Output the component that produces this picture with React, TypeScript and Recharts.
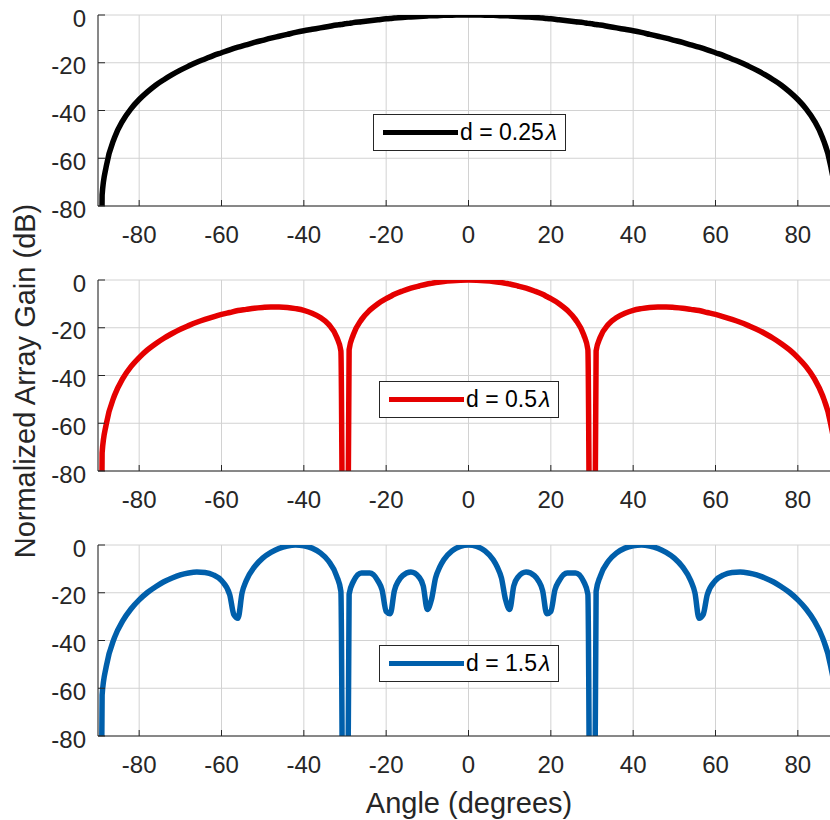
import { LineChart, Line, XAxis, YAxis, CartesianGrid, Legend } from 'recharts';

// angles (degrees) shared by the d = 0.25 and d = 0.5 curves
const angles = [
  -90, -89, -88, -86, -84, -82, -80, -78, -76, -74, -72, -70, -68, -66, -64, -62, -60, -58, -56, -54,
  -52, -50, -48, -46, -44, -42, -40, -38, -36, -34, -32, -31, -30, -29, -28, -26, -24, -22, -20, -19,
  -18, -16, -14, -12, -10, -9, -8, -6, -4, -2, 0, 2, 4, 6, 8, 9, 10, 12, 14, 16,
  18, 19, 20, 22, 24, 26, 28, 29, 30, 31, 32, 34, 36, 38, 40, 42, 44, 46, 48, 50,
  52, 54, 56, 58, 60, 62, 64, 66, 68, 70, 72, 74, 76, 78, 80, 82, 84, 86, 88, 89, 90,
];

// d = 0.25 lambda
const gainQuarter = [
  -300, -75.4, -63.4, -51.4, -44.3, -39.3, -35.4, -32.2, -29.4, -27.1, -25.0, -23.1, -21.4, -19.8, -18.4, -17.0, -15.8, -14.6, -13.5, -12.5,
  -11.5, -10.6, -9.7, -8.9, -8.1, -7.3, -6.6, -6.0, -5.4, -4.8, -4.2, -4.0, -3.7, -3.5, -3.2, -2.8, -2.4, -2.0, -1.6, -1.5,
  -1.3, -1.0, -0.8, -0.6, -0.4, -0.3, -0.3, -0.1, -0.1, 0, 0, 0, -0.1, -0.1, -0.3, -0.3, -0.4, -0.6, -0.8, -1.0,
  -1.3, -1.5, -1.6, -2.0, -2.4, -2.8, -3.2, -3.5, -3.7, -4.0, -4.2, -4.8, -5.4, -6.0, -6.6, -7.3, -8.1, -8.9, -9.7, -10.6,
  -11.5, -12.5, -13.5, -14.6, -15.8, -17.0, -18.4, -19.8, -21.4, -23.1, -25.0, -27.1, -29.4, -32.2, -35.4, -39.3, -44.3, -51.4, -63.4, -75.4, -300,
];

// d = 0.5 lambda
const gainHalf = [
  -300, -72.4, -60.4, -48.4, -41.3, -36.3, -32.5, -29.3, -26.7, -24.4, -22.4, -20.6, -19.1, -17.7, -16.5, -15.4, -14.4, -13.6, -12.8, -12.3,
  -11.8, -11.5, -11.3, -11.3, -11.5, -12.0, -12.7, -13.9, -15.7, -18.5, -24.0, -29.7, -300, -29.2, -23.0, -16.6, -12.7, -9.9, -7.8, -6.9,
  -6.0, -4.6, -3.4, -2.5, -1.7, -1.4, -1.1, -0.6, -0.3, -0.1, 0, -0.1, -0.3, -0.6, -1.1, -1.4, -1.7, -2.5, -3.4, -4.6,
  -6.0, -6.9, -7.8, -9.9, -12.7, -16.6, -23.0, -29.2, -300, -29.7, -24.0, -18.5, -15.7, -13.9, -12.7, -12.0, -11.5, -11.3, -11.3, -11.5,
  -11.8, -12.3, -12.8, -13.6, -14.4, -15.4, -16.5, -17.7, -19.1, -20.6, -22.4, -24.4, -26.7, -29.3, -32.5, -36.3, -41.3, -48.4, -60.4, -72.4, -300,
];

// angles for the d = 1.5 curve (denser around the dips)
const anglesWide = [
  -90, -89, -88, -86, -84, -82, -80, -78, -76, -74, -72, -70, -68, -66, -64, -62, -60, -58, -57, -56,
  -55, -54, -52, -50, -48, -46, -44, -42, -40, -38, -36, -34, -32, -31, -30, -29, -28, -26, -24, -22,
  -21, -20, -19, -18, -17, -16, -14, -12, -11, -10, -9, -8, -7, -6, -4, -2, 0, 2, 4, 6,
  7, 8, 9, 10, 11, 12, 14, 16, 17, 18, 19, 20, 21, 22, 24, 26, 28, 29, 30, 31,
  32, 34, 36, 38, 40, 42, 44, 46, 48, 50, 52, 54, 55, 56, 57, 58, 60, 62, 64, 66,
  68, 70, 72, 74, 76, 78, 80, 82, 84, 86, 88, 89, 90,
];

// d = 1.5 lambda
const gainOneHalf = [
  -300, -62.9, -50.9, -38.8, -31.8, -26.8, -23.0, -19.9, -17.5, -15.4, -13.8, -12.5, -11.7, -11.3, -11.5, -12.5, -14.9, -20.8, -29.2, -30.7,
  -20.0, -15.0, -9.2, -5.5, -3.1, -1.4, -0.4, 0, -0.3, -1.3, -3.3, -6.7, -13.1, -19.4, -300, -20.6, -15.4, -11.7, -11.7, -15.0,
  -18.8, -27.8, -28.8, -19.1, -15.0, -12.8, -11.3, -13.5, -17.1, -27.0, -22.9, -13.8, -9.3, -6.2, -2.5, -0.6, 0, -0.6, -2.5, -6.2,
  -9.3, -13.8, -22.9, -27.0, -17.1, -13.5, -11.3, -12.8, -15.0, -19.1, -28.8, -27.8, -18.8, -15.0, -11.7, -11.7, -15.4, -20.6, -300, -19.4,
  -13.1, -6.7, -3.3, -1.3, -0.3, 0, -0.4, -1.4, -3.1, -5.5, -9.2, -15.0, -20.0, -30.7, -29.2, -20.8, -14.9, -12.5, -11.5, -11.3,
  -11.7, -12.5, -13.8, -15.4, -17.5, -19.9, -23.0, -26.8, -31.8, -38.8, -50.9, -62.9, -300,
];

const xTicks = [-80, -60, -40, -20, 0, 20, 40, 60, 80];
const yTicks = [-80, -60, -40, -20, 0];

const FONT = '"Liberation Sans", Arial, Helvetica, sans-serif';
const INK = '#262626';

function toRows(xs: number[], ys: number[]) {
  return xs.map((a, i) => ({ angle: a, gain: ys[i] }));
}

// MATLAB style boxed legend with the line sample on the left
function LegendBox(props: any) {
  const item = props.payload && props.payload[0];
  if (!item) return null;
  const label: string = item.value;
  const base = label.replace('λ', '');
  return (
    <div style={{
      display: 'flex', alignItems: 'center', height: 37, padding: '0 8px 0 9px',
      border: '1px solid ' + INK, background: '#fff', fontFamily: FONT, fontSize: 23, color: '#000',
      boxSizing: 'border-box',
    }}>
      <div style={{ width: 75, height: 5, background: item.color }} />
      <span style={{ marginLeft: 2, whiteSpace: 'pre' }}>
        {base}<span style={{ fontStyle: 'italic', marginLeft: 2 }}>λ</span>
      </span>
    </div>
  );
}

type PanelProps = {
  rows: { angle: number, gain: number }[],
  color: string,
  name: string,
  top: number,
  legendLeft: number,
  legendTop: number,
}

function Panel({ rows, color, name, top, legendLeft, legendTop }: PanelProps) {
  return (
    <div style={{ position: 'absolute', left: 0, top: top }}>
      <LineChart width={860} height={260} data={rows}
        margin={{ top: 10, right: 21, bottom: 19, left: 38 }}
        style={{ fontFamily: FONT }}>
        <CartesianGrid stroke="#d2d2d2" />
        <XAxis dataKey="angle" type="number" domain={[-90, 90]} ticks={xTicks} interval={0}
          height={40} stroke={INK} tickSize={-6} tickMargin={26}
          tick={{ fontSize: 24, fill: INK }} />
        <XAxis xAxisId="top" orientation="top" type="number" domain={[-90, 90]} ticks={xTicks}
          interval={0} height={0} stroke={INK} tickSize={-6} tick={false} />
        <YAxis type="number" domain={[-80, 0]} ticks={yTicks} interval={0} allowDataOverflow
          width={60} stroke={INK} tickSize={-7} tickMargin={19}
          tick={{ fontSize: 24, fill: INK, dy: 3 }} />
        <Legend verticalAlign="middle" align="center" content={<LegendBox />}
          wrapperStyle={{ left: legendLeft, top: legendTop, width: 'auto' }} />
        <Line type="monotone" dataKey="gain" name={name} stroke={color} strokeWidth={5.5}
          dot={false} activeDot={false} isAnimationActive={false} />
      </LineChart>
    </div>
  );
}

export default function App() {
  return (
    <div style={{ position: 'absolute', left: 0, top: 0, width: 830, height: 820, overflow: 'hidden', background: '#fff' }}>
      <Panel rows={toRows(angles, gainQuarter)} color="#000000" name="d = 0.25λ"
        top={5} legendLeft={373} legendTop={109} />
      <Panel rows={toRows(angles, gainHalf)} color="#e50000" name="d = 0.5λ"
        top={270} legendLeft={379} legendTop={111} />
      <Panel rows={toRows(anglesWide, gainOneHalf)} color="#005fab" name="d = 1.5λ"
        top={535} legendLeft={379} legendTop={110} />
      <svg width={830} height={820} style={{ position: 'absolute', left: 0, top: 0, pointerEvents: 'none' }}>
        <text x={35} y={381} transform="rotate(-90 35 381)" textAnchor="middle"
          fontFamily={FONT} fontSize={29} fill={INK}>Normalized Array Gain (dB)</text>
        <text x={469} y={813} textAnchor="middle" fontFamily={FONT} fontSize={29} fill={INK}>Angle (degrees)</text>
      </svg>
    </div>
  );
}
